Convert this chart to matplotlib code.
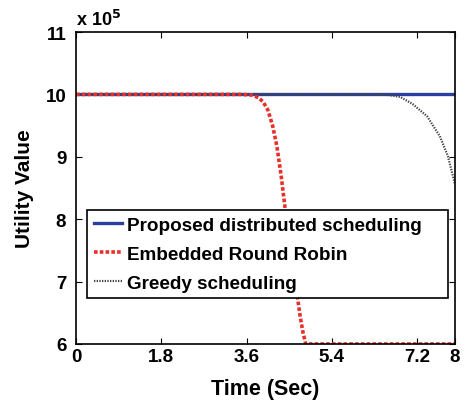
import matplotlib
matplotlib.use("Agg")
import matplotlib.pyplot as plt

plt.rcParams['font.family'] = ['Liberation Sans', 'DejaVu Sans']
plt.rcParams['font.weight'] = 'bold'

# data (values in units of 1e5)
t_prop = [0, 8]
u_prop = [10, 10]

t_rr = [0, 3.5, 3.7, 3.85, 3.95, 4.05, 4.15, 4.24, 4.33, 4.41, 4.5, 4.58, 4.66, 4.73, 4.79, 4.85, 8]
u_rr = [10, 10, 9.99, 9.95, 9.88, 9.75, 9.5, 9.17, 8.7, 8.2, 7.6, 7.2, 6.83, 6.45, 6.19, 6.0, 6.0]

t_gr = [0, 6.3, 6.6, 6.84, 7.1, 7.41, 7.68, 7.85, 8]
u_gr = [10, 10, 9.99, 9.96, 9.85, 9.65, 9.33, 9.01, 8.56]

xticks = [0, 1.8, 3.6, 5.4, 7.2, 8]
xticklabels = ['0', '1.8', '3.6', '5.4', '7.2', '8']
yticks = [6, 7, 8, 9, 10, 11]

fig = plt.figure(figsize=(4.66, 4.06), dpi=100)
ax = fig.add_axes([76/466, 61/406, 379/466, 312/406])

h1, = ax.plot(t_prop, u_prop, color='#2b3f9e', lw=2.4, label='Proposed distributed scheduling')
h3, = ax.plot(t_gr, u_gr, color='#444444', lw=1.6, ls=(0, (0.6, 0.6)), label='Greedy scheduling')
h2, = ax.plot(t_rr, u_rr, color='#e8302a', lw=2.6, ls=(0, (1, 0.6)), label='Embedded Round Robin')

ax.set_xlim(0, 8)
ax.set_ylim(6, 11)
ax.set_xticks(xticks)
ax.set_xticklabels(xticklabels)
ax.set_yticks(yticks)
ax.tick_params(direction='in', top=True, right=True, length=4, labelsize=13.5, width=0.8)
ax.tick_params(axis='x', pad=3)
ax.tick_params(axis='y', pad=7)
for s in ax.spines.values():
    s.set_linewidth(1.2)

ax.set_xlabel('Time (Sec)', fontsize=15.5, fontweight='bold', labelpad=9)
ax.set_ylabel('Utility Value', fontsize=15, fontweight='bold', labelpad=8)

ax.text(0.0, 1.01, r'x 10$^{\mathbf{5}}$', transform=ax.transAxes, fontsize=13,
        fontweight='bold', ha='left', va='bottom')

leg = ax.legend(handles=[h1, h2, h3], loc='upper left',
                bbox_to_anchor=(0.029, 0.154, 0.952, 0.276), mode='expand',
                fontsize=13.6, frameon=True, fancybox=False, edgecolor='black', framealpha=1,
                handlelength=1.5, handletextpad=0.25, borderpad=0.35, labelspacing=0.62,
                borderaxespad=0)
leg.get_frame().set_linewidth(1.2)
for txt in leg.get_texts():
    txt.set_fontweight('bold')

fig.savefig('out.png', dpi=100)
